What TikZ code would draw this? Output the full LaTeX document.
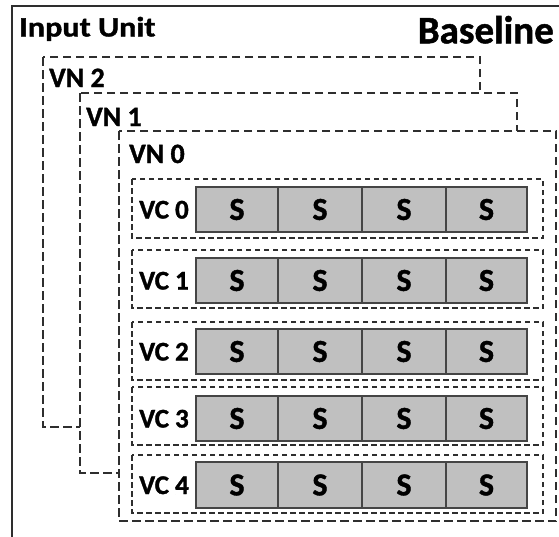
\documentclass[tikz,border=0pt]{standalone}
\usepackage{fontspec}
\setmainfont{Carlito}[BoldFeatures={FakeBold=1.2}]
\usetikzlibrary{positioning}
\definecolor{linegray}{HTML}{2E2E2E}
\definecolor{cellgray}{HTML}{C0C0C0}
\definecolor{cellline}{HTML}{454545}
\tikzset{
  vnbox/.style={draw=linegray, line width=2.2pt, dash pattern=on 8.5pt off 4.5pt, fill=white},
  vcbox/.style={draw=linegray, line width=2pt, dash pattern=on 5.5pt off 3.5pt},
  cellbox/.style={draw=cellline, fill=cellgray, line width=1.4pt},
  lbl/.style={inner sep=0pt, anchor=base west, font=\bfseries\fontsize{28}{28}\selectfont, text=black},
  vclbl/.style={inner sep=0pt, anchor=base west, font=\bfseries\fontsize{27}{27}\selectfont, text=black},
  stxt/.style={inner sep=0pt, font=\bfseries\fontsize{32}{32}\selectfont, text=black},
}
\begin{document}
\begin{tikzpicture}[x=1pt,y=-1pt]
\useasboundingbox (0,0) rectangle (559,536);
% outer input unit frame (cropped)
\draw[linegray, line width=2.2pt] (12,540) -- (12,6) -- (563,6);
\node[lbl] (inputunit) at (19,36.5) {\scalebox{1.15}[1]{Input Unit}};
\node[inner sep=0pt, anchor=base east, font=\bfseries\fontsize{39}{39}\selectfont] (baseline) at (554,43.3) {Baseline};
% VN boxes
\path[vnbox] (43,57) rectangle (480,427);
\node[lbl] (vn2) at (49,87) {VN 2};
\path[vnbox] (80,93) rectangle (517,473);
\node[lbl] (vn1) at (86,126) {VN 1};
\path[vnbox] (119,131) rectangle (556,521);
\node[lbl] (vn0) at (129,163) {VN 0};
% VC rows
\foreach \i/\bt/\bb/\st/\sb in {0/179/238/187/232, 1/250/308/258/303, 2/322/380/329/374, 3/387/445/396/441, 4/455/513/462/508}{
  \path[vcbox] (132,\bt) rectangle (543,\bb);
  \pgfmathsetmacro{\cy}{(\st+\sb)/2}
  \node[vclbl] (vc\i) at (139,\cy+9) {VC \i};
  \foreach \j/\xa/\xb in {0/196/278, 1/278/362, 2/362/446, 3/446/527}{
    \path[cellbox] (\xa,\st) rectangle (\xb,\sb);
    \node[stxt] (s\i\j) at ({(\xa+\xb)/2},\cy) {S};
  }
}
\end{tikzpicture}
\end{document}
